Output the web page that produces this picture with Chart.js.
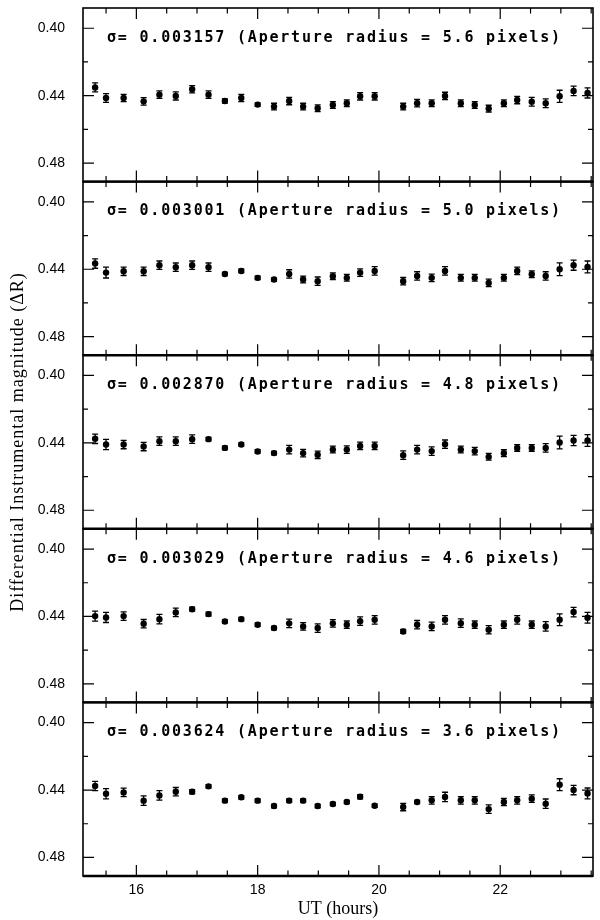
<!DOCTYPE html>
<html>
<head>
<meta charset="utf-8">
<script src="https://cdn.jsdelivr.net/npm/chart.js@4.4.1/dist/chart.umd.min.js"></script>
<style>
  body { margin: 0; background: #fff; }
  #wrap { position: relative; width: 600px; height: 920px; }
</style>
</head>
<body>
<div id="wrap"><canvas id="lightCurves" width="600" height="920"></canvas></div>
<script>
// UT of each exposure (hours), shared by all panels
const utHours = [15.32, 15.50, 15.79, 16.12, 16.38, 16.65, 16.92, 17.19, 17.46, 17.73, 18.00,
                 18.27, 18.52, 18.75, 18.99, 19.24, 19.47, 19.69, 19.93, 20.40, 20.63, 20.87,
                 21.09, 21.35, 21.58, 21.81, 22.06, 22.28, 22.52, 22.75, 22.98, 23.21, 23.44];

// differential magnitudes, one array per aperture
const magAp56 = [0.4351, 0.4414, 0.4414, 0.4434, 0.4394, 0.4402, 0.4362, 0.4394, 0.4432, 0.4414, 0.4453,
                 0.4465, 0.4432, 0.4465, 0.4475, 0.4455, 0.4445, 0.4404, 0.4404, 0.4465, 0.4445, 0.4445,
                 0.4402, 0.4445, 0.4455, 0.4477, 0.4445, 0.4426, 0.4436, 0.4445, 0.4404, 0.4372, 0.4384];
const errAp56 = [0.0027, 0.0026, 0.0022, 0.0022, 0.0022, 0.0024, 0.0022, 0.0022, 0.0012, 0.0022, 0.0010,
                 0.0020, 0.0022, 0.0020, 0.0020, 0.0020, 0.0020, 0.0022, 0.0022, 0.0020, 0.0022, 0.0020,
                 0.0022, 0.0020, 0.0020, 0.0020, 0.0020, 0.0022, 0.0026, 0.0026, 0.0036, 0.0028, 0.0030];

const magAp50 = [0.4366, 0.4420, 0.4412, 0.4412, 0.4376, 0.4388, 0.4376, 0.4388, 0.4428, 0.4410, 0.4451,
                 0.4461, 0.4428, 0.4461, 0.4471, 0.4441, 0.4451, 0.4420, 0.4410, 0.4471, 0.4440, 0.4451,
                 0.4410, 0.4451, 0.4451, 0.4481, 0.4451, 0.4410, 0.4430, 0.4440, 0.4400, 0.4376, 0.4386];
const errAp50 = [0.0028, 0.0032, 0.0025, 0.0025, 0.0025, 0.0025, 0.0025, 0.0025, 0.0010, 0.0010, 0.0010,
                 0.0010, 0.0025, 0.0020, 0.0025, 0.0020, 0.0020, 0.0022, 0.0025, 0.0022, 0.0025, 0.0022,
                 0.0025, 0.0020, 0.0020, 0.0022, 0.0020, 0.0022, 0.0020, 0.0025, 0.0038, 0.0030, 0.0035];

const magAp48 = [0.4376, 0.4410, 0.4410, 0.4422, 0.4390, 0.4390, 0.4378, 0.4378, 0.4430, 0.4410, 0.4451,
                 0.4461, 0.4440, 0.4461, 0.4471, 0.4440, 0.4440, 0.4418, 0.4418, 0.4473, 0.4440, 0.4449,
                 0.4408, 0.4440, 0.4449, 0.4483, 0.4461, 0.4430, 0.4430, 0.4430, 0.4398, 0.4386, 0.4386];
const errAp48 = [0.0028, 0.0030, 0.0025, 0.0025, 0.0025, 0.0025, 0.0025, 0.0010, 0.0010, 0.0010, 0.0010,
                 0.0010, 0.0025, 0.0022, 0.0022, 0.0020, 0.0022, 0.0022, 0.0022, 0.0025, 0.0025, 0.0025,
                 0.0025, 0.0020, 0.0022, 0.0020, 0.0020, 0.0020, 0.0020, 0.0025, 0.0038, 0.0030, 0.0035];

const magAp46 = [0.4398, 0.4406, 0.4398, 0.4443, 0.4416, 0.4376, 0.4357, 0.4386, 0.4430, 0.4416, 0.4449,
                 0.4469, 0.4441, 0.4459, 0.4469, 0.4441, 0.4449, 0.4428, 0.4420, 0.4489, 0.4449, 0.4459,
                 0.4420, 0.4440, 0.4449, 0.4479, 0.4449, 0.4420, 0.4449, 0.4459, 0.4420, 0.4374, 0.4408];
const errAp46 = [0.0030, 0.0030, 0.0025, 0.0025, 0.0028, 0.0025, 0.0012, 0.0012, 0.0010, 0.0010, 0.0010,
                 0.0010, 0.0025, 0.0022, 0.0025, 0.0022, 0.0022, 0.0025, 0.0025, 0.0012, 0.0025, 0.0025,
                 0.0025, 0.0025, 0.0022, 0.0025, 0.0022, 0.0025, 0.0022, 0.0028, 0.0035, 0.0028, 0.0032];

const magAp36 = [0.4376, 0.4422, 0.4414, 0.4463, 0.4432, 0.4410, 0.4410, 0.4378, 0.4463, 0.4443, 0.4463,
                 0.4495, 0.4463, 0.4463, 0.4495, 0.4483, 0.4471, 0.4440, 0.4493, 0.4501, 0.4471, 0.4461,
                 0.4441, 0.4461, 0.4461, 0.4513, 0.4471, 0.4461, 0.4451, 0.4481, 0.4368, 0.4400, 0.4420];
const errAp36 = [0.0028, 0.0030, 0.0025, 0.0028, 0.0028, 0.0025, 0.0012, 0.0010, 0.0010, 0.0010, 0.0010,
                 0.0010, 0.0010, 0.0010, 0.0010, 0.0010, 0.0010, 0.0012, 0.0010, 0.0022, 0.0010, 0.0022,
                 0.0028, 0.0022, 0.0022, 0.0025, 0.0022, 0.0022, 0.0022, 0.0028, 0.0035, 0.0028, 0.0032];

const panelLabels = [
  'σ= 0.003157 (Aperture radius = 5.6 pixels)',
  'σ= 0.003001 (Aperture radius = 5.0 pixels)',
  'σ= 0.002870 (Aperture radius = 4.8 pixels)',
  'σ= 0.003029 (Aperture radius = 4.6 pixels)',
  'σ= 0.003624 (Aperture radius = 3.6 pixels)'
];
const panelMags = [magAp56, magAp50, magAp48, magAp46, magAp36];
const panelErrs = [errAp56, errAp50, errAp48, errAp46, errAp36];

// axes
const xTickVals = [15.5, 16, 16.5, 17, 17.5, 18, 18.5, 19, 19.5, 20, 20.5, 21, 21.5, 22, 22.5, 23, 23.5];
const xLabelVals = [16, 18, 20, 22];
const yTickVals = [0.40, 0.42, 0.44, 0.46, 0.48];
const yLabelVals = [0.40, 0.44, 0.48];
const xMin = 15.12, xMax = 23.53;
const yMin = 0.388, yMax = 0.491;

const tickFont = { family: '"Liberation Sans", Arial, sans-serif', size: 14 };
const serifFont = '"Liberation Serif", "Times New Roman", serif';

// Frame, inward ticks, error bars and panel captions
const panelPlugin = {
    id: 'panelPlugin',
    afterDraw(chart) {
        const ctx = chart.ctx;
        const xs = chart.scales.x;
        const area = chart.chartArea;
        ctx.save();
        ctx.strokeStyle = '#000';
        ctx.fillStyle = '#000';

        // error bars
        ctx.lineWidth = 1.3;
        chart.data.datasets.forEach((ds, k) => {
            const ys = chart.scales[ds.yAxisID];
            const errs = panelErrs[k];
            chart.getDatasetMeta(k).data.forEach((pt, i) => {
                const v = ds.data[i].y;
                const y1 = ys.getPixelForValue(v - errs[i]);
                const y2 = ys.getPixelForValue(v + errs[i]);
                ctx.beginPath();
                ctx.moveTo(pt.x, y1); ctx.lineTo(pt.x, y2);
                ctx.moveTo(pt.x - 3, y1); ctx.lineTo(pt.x + 3, y1);
                ctx.moveTo(pt.x - 3, y2); ctx.lineTo(pt.x + 3, y2);
                ctx.stroke();
            });
        });

        panelLabels.forEach((label, k) => {
            const ys = chart.scales['y' + k];
            const top = ys.top, bottom = ys.bottom;

            // ticks
            ctx.lineWidth = 1.2;
            ctx.beginPath();
            yTickVals.forEach(v => {
                const py = ys.getPixelForValue(v);
                const len = yLabelVals.includes(v) ? 11 : 5;
                ctx.moveTo(area.left, py); ctx.lineTo(area.left + len, py);
                ctx.moveTo(area.right, py); ctx.lineTo(area.right - len, py);
            });
            xTickVals.forEach(v => {
                const px = xs.getPixelForValue(v);
                const len = xLabelVals.includes(v) ? 11 : 5.5;
                ctx.moveTo(px, top); ctx.lineTo(px, top + len);
                ctx.moveTo(px, bottom); ctx.lineTo(px, bottom - len);
            });
            ctx.stroke();

            // frame
            ctx.lineWidth = 1.6;
            ctx.strokeRect(area.left, top, area.right - area.left, bottom - top);

            // caption
            ctx.font = 'bold 15px "DejaVu Sans Mono", monospace';
            ctx.letterSpacing = '1.8px';
            ctx.textAlign = 'left';
            ctx.textBaseline = 'middle';
            ctx.fillText(label, 107, top + 30);
            ctx.letterSpacing = '0px';
        });

        // thicker separators between panels
        ctx.lineWidth = 2.4;
        ctx.beginPath();
        for (let k = 1; k < panelLabels.length; k++) {
            const y = chart.scales['y' + k].top;
            ctx.moveTo(area.left, y); ctx.lineTo(area.right, y);
        }
        ctx.moveTo(area.left, area.bottom); ctx.lineTo(area.right, area.bottom);
        ctx.stroke();

        // shared y title
        ctx.font = '18px ' + serifFont;
        ctx.letterSpacing = '1px';
        ctx.textAlign = 'center';
        ctx.textBaseline = 'middle';
        ctx.translate(18, (area.top + area.bottom) / 2);
        ctx.rotate(-Math.PI / 2);
        ctx.fillText('Differential Instrumental magnitude (ΔR)', 0, 0);
        ctx.restore();
    }
};

const datasets = panelMags.map((mags, k) => ({
    label: panelLabels[k],
    data: utHours.map((h, i) => ({ x: h, y: mags[i] })),
    yAxisID: 'y' + k,
    pointRadius: 3.2,
    pointBackgroundColor: '#000',
    pointBorderWidth: 0,
    showLine: false
}));

const scales = {
    x: {
        type: 'linear',
        min: xMin,
        max: xMax,
        afterBuildTicks: s => { s.ticks = xTickVals.map(v => ({ value: v })); },
        afterFit: s => { s.height = 44; s.paddingLeft = 0; s.paddingRight = 0; },
        ticks: {
            autoSkip: false,
            maxRotation: 0,
            padding: 6,
            color: '#000',
            font: tickFont,
            callback: v => xLabelVals.includes(v) ? String(v) : ''
        },
        grid: { display: false, drawTicks: false },
        border: { display: false },
        title: {
            display: true,
            text: 'UT (hours)',
            color: '#000',
            font: { family: serifFont, size: 18 },
            padding: { top: 0, bottom: 0 }
        }
    }
};
panelLabels.forEach((label, k) => {
    scales['y' + k] = {
        type: 'linear',
        position: 'left',
        stack: 'panels',
        stackWeight: 1,
        weight: panelLabels.length - k,
        reverse: true,
        min: yMin,
        max: yMax,
        afterBuildTicks: s => { s.ticks = yTickVals.map(v => ({ value: v })); },
        afterFit: s => { s.width = 83; s.paddingTop = 0; s.paddingBottom = 0; },
        ticks: {
            autoSkip: false,
            padding: 18,
            color: '#000',
            font: tickFont,
            callback: v => yLabelVals.includes(v) ? v.toFixed(2) : ''
        },
        grid: { display: false, drawTicks: false },
        border: { display: false }
    };
});

new Chart(document.getElementById('lightCurves'), {
    type: 'scatter',
    data: { datasets: datasets },
    options: {
        responsive: false,
        animation: false,
        devicePixelRatio: 1,
        layout: { padding: { top: 8, right: 7, left: 0, bottom: 0 } },
        plugins: { legend: { display: false }, tooltip: { enabled: false } },
        scales: scales
    },
    plugins: [panelPlugin]
});
</script>
</body>
</html>
